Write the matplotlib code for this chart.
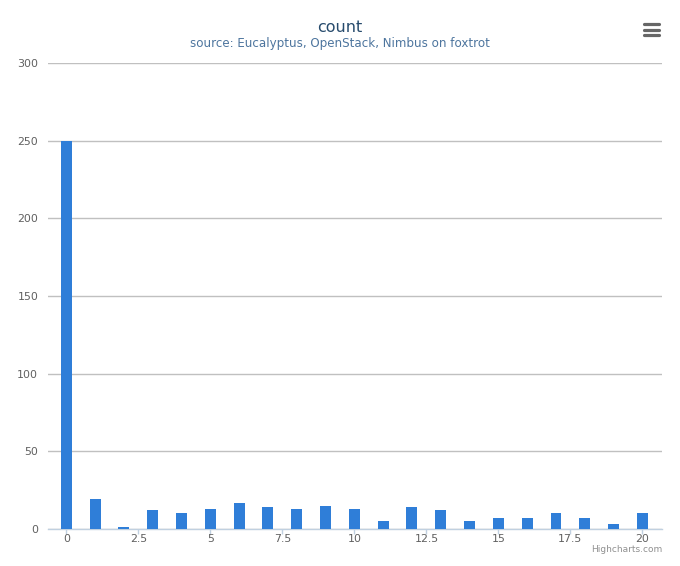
import matplotlib
matplotlib.use("Agg")
import matplotlib.pyplot as plt
from matplotlib.lines import Line2D

categories = list(range(21))
counts = [250, 19, 1, 12, 10, 13, 17, 14, 13, 15, 13, 5, 14, 12, 5, 7, 7, 10, 7, 3, 10]
x_ticks = [0, 2.5, 5, 7.5, 10, 12.5, 15, 17.5, 20]
x_tick_labels = ["0", "2.5", "5", "7.5", "10", "12.5", "15", "17.5", "20"]
y_ticks = [0, 50, 100, 150, 200, 250, 300]

W, H = 680, 566
fig = plt.figure(figsize=(W / 100, H / 100), dpi=100)
ax = fig.add_axes([48 / W, (H - 529) / H, (662 - 48) / W, (529 - 63) / H])

ax.bar(categories, counts, width=0.38, color="#2f7ed8", zorder=3)

ax.set_xlim(-0.635, 20.68)
ax.set_ylim(0, 300)
ax.set_yticks(y_ticks)
ax.set_yticklabels([str(v) for v in y_ticks])
ax.set_xticks(x_ticks)
ax.set_xticklabels(x_tick_labels)

ax.grid(axis="y", color="#c0c0c0", linewidth=1, zorder=0)
for s in ["top", "right", "left"]:
    ax.spines[s].set_visible(False)
ax.spines["bottom"].set_color("#c0d0e0")
ax.spines["bottom"].set_linewidth(1)
ax.tick_params(axis="y", length=0, pad=7, labelsize=7.9, labelcolor="#606060")
ax.tick_params(axis="x", length=3.6, width=1, color="#c0d0e0", pad=0.3,
               labelsize=7.9, labelcolor="#606060")

fig.text(340 / W, 1 - 27 / H, "count", ha="center", va="center",
         fontsize=11.5, color="#274b6d")
fig.text(340 / W, 1 - 44 / H, "source: Eucalyptus, OpenStack, Nimbus on foxtrot",
         ha="center", va="center", fontsize=8.6, color="#4d759e")
fig.text(662 / W, 1 - 550 / H, "Highcharts.com", ha="right", va="center",
         fontsize=6.5, color="#909090")

# menu icon
for yy in [24, 29.5, 35]:
    fig.add_artist(Line2D([643.5 / W, 658.5 / W], [1 - yy / H, 1 - yy / H],
                          color="#666666", linewidth=2.3, solid_capstyle="round"))

fig.savefig("out.png", dpi=100)
